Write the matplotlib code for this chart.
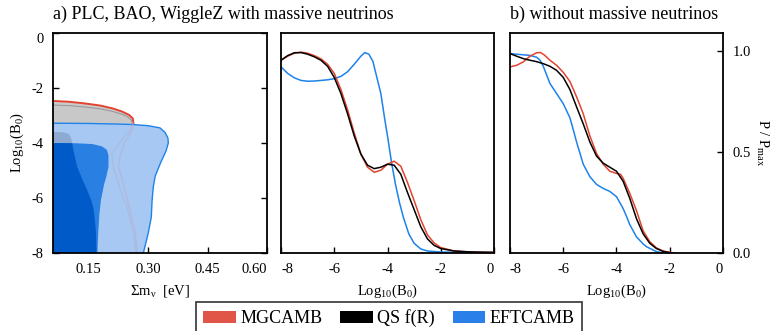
import numpy as np
import matplotlib
matplotlib.use('Agg')
import matplotlib.pyplot as plt
from matplotlib.patches import Patch

plt.rcParams['font.family'] = ['Liberation Serif', 'DejaVu Serif']
plt.rcParams['mathtext.fontset'] = 'custom'
plt.rcParams['mathtext.rm'] = 'Liberation Serif'
plt.rcParams['mathtext.it'] = 'Liberation Serif:italic'

RED = '#e4432f'
BLUE = '#1e82ea'

# ── panel a) contours: boundaries (sum m_nu, log10 B0) ──────────────────────
# MGCAMB outer contour (top edge, then right edge down to -8)
mg95_x = [0.06, 0.10, 0.14, 0.18, 0.21, 0.235, 0.252, 0.261, 0.263, 0.262, 0.255, 0.24, 0.229, 0.225, 0.24, 0.255, 0.267, 0.273]
mg95_y = [-2.47, -2.50, -2.56, -2.64, -2.74, -2.86, -2.98, -3.10, -3.25, -3.45, -3.65, -4.0, -4.5, -4.86, -5.6, -6.5, -7.2, -8.0]
# MGCAMB inner contour
mg68_x = [0.06, 0.10, 0.14, 0.18, 0.21, 0.235, 0.250, 0.258, 0.260, 0.255, 0.235, 0.208, 0.212, 0.230, 0.246, 0.262, 0.270]
mg68_y = [-2.62, -2.64, -2.69, -2.76, -2.85, -2.96, -3.06, -3.18, -3.32, -3.53, -3.85, -4.4, -4.86, -5.7, -6.3, -7.2, -8.0]
# EFTCAMB outer contour
ef95_x = [0.06, 0.15, 0.22, 0.263, 0.30, 0.33, 0.343, 0.350, 0.351, 0.345, 0.332, 0.318, 0.313, 0.310, 0.308, 0.300, 0.288]
ef95_y = [-3.28, -3.29, -3.31, -3.33, -3.37, -3.45, -3.62, -3.82, -4.0, -4.3, -4.7, -5.2, -5.6, -6.1, -6.7, -7.3, -8.0]
# EFTCAMB inner contour
ef68_x = [0.06, 0.12, 0.16, 0.183, 0.196, 0.200, 0.200, 0.195, 0.189, 0.181, 0.177, 0.174, 0.172]
ef68_y = [-4.0, -4.01, -4.04, -4.12, -4.25, -4.45, -4.86, -5.2, -5.5, -6.07, -6.6, -7.3, -8.0]
# overlap region (innermost)
core_x = [0.06, 0.085, 0.097, 0.104, 0.108, 0.112, 0.121, 0.135, 0.146, 0.157, 0.163, 0.168, 0.170]
core_y = [-3.60, -3.61, -3.65, -3.75, -3.95, -4.3, -4.86, -5.35, -5.7, -6.1, -6.44, -7.16, -8.0]

# ── panel a) 1D posteriors with massive neutrinos ────────────────────────────
a_mg_x = [-8.0, -7.75, -7.5, -7.25, -7.0, -6.75, -6.5, -6.25, -6.0, -5.75, -5.5, -5.25, -5.0, -4.75, -4.5, -4.25, -4.0, -3.75, -3.5, -3.25, -3.0, -2.75, -2.5, -2.25, -2.0, -1.5, -1.0, -0.5, 0.0]
a_mg_y = [0.955, 0.975, 0.99, 0.995, 0.99, 0.978, 0.962, 0.935, 0.89, 0.81, 0.71, 0.595, 0.49, 0.425, 0.40, 0.41, 0.44, 0.455, 0.43, 0.35, 0.26, 0.165, 0.09, 0.05, 0.027, 0.01, 0.006, 0.004, 0.003]
a_qs_x = [-8.0, -7.75, -7.5, -7.25, -7.0, -6.75, -6.5, -6.25, -6.0, -5.75, -5.5, -5.25, -5.0, -4.75, -4.5, -4.25, -4.0, -3.75, -3.5, -3.25, -3.0, -2.75, -2.5, -2.25, -2.0, -1.5, -1.0, -0.5, 0.0]
a_qs_y = [0.955, 0.978, 0.992, 0.993, 0.985, 0.972, 0.955, 0.925, 0.87, 0.79, 0.69, 0.58, 0.49, 0.435, 0.418, 0.425, 0.44, 0.435, 0.39, 0.30, 0.215, 0.13, 0.07, 0.038, 0.022, 0.01, 0.006, 0.004, 0.003]
a_ef_x = [-8.0, -7.75, -7.5, -7.25, -7.0, -6.75, -6.5, -6.25, -6.0, -5.75, -5.5, -5.25, -5.0, -4.85, -4.7, -4.55, -4.4, -4.25, -4.1, -4.0, -3.85, -3.7, -3.55, -3.4, -3.2, -3.0, -2.75, -2.5, -2.0, -1.0, 0.0]
a_ef_y = [0.922, 0.89, 0.868, 0.855, 0.851, 0.852, 0.855, 0.858, 0.864, 0.875, 0.898, 0.935, 0.975, 0.993, 0.985, 0.95, 0.87, 0.79, 0.66, 0.58, 0.45, 0.34, 0.25, 0.175, 0.095, 0.048, 0.02, 0.01, 0.005, 0.003, 0.002]

# ── panel b) without massive neutrinos ───────────────────────────────────────
b_mg_x = [-8.0, -7.75, -7.5, -7.25, -7.0, -6.85, -6.7, -6.5, -6.25, -6.0, -5.75, -5.5, -5.25, -5.0, -4.75, -4.5, -4.25, -4.0, -3.85, -3.75, -3.5, -3.25, -3.0, -2.75, -2.5, -2.25, -2.0, -1.8]
b_mg_y = [0.922, 0.93, 0.947, 0.975, 0.992, 0.993, 0.98, 0.955, 0.93, 0.895, 0.85, 0.774, 0.69, 0.58, 0.493, 0.44, 0.405, 0.394, 0.39, 0.37, 0.295, 0.21, 0.11, 0.056, 0.025, 0.01, 0.003, 0.0]
b_qs_x = [-8.0, -7.75, -7.5, -7.25, -7.0, -6.75, -6.5, -6.25, -6.0, -5.75, -5.5, -5.25, -5.0, -4.75, -4.5, -4.25, -4.0, -3.75, -3.5, -3.25, -3.0, -2.75, -2.5, -2.25, -2.0]
b_qs_y = [0.988, 0.975, 0.963, 0.955, 0.948, 0.938, 0.925, 0.905, 0.87, 0.81, 0.724, 0.64, 0.55, 0.48, 0.445, 0.425, 0.405, 0.355, 0.27, 0.17, 0.095, 0.048, 0.022, 0.008, 0.002]
b_ef_x = [-8.0, -7.75, -7.5, -7.25, -7.0, -6.87, -6.75, -6.5, -6.25, -6.0, -5.75, -5.62, -5.5, -5.37, -5.25, -5.0, -4.75, -4.5, -4.25, -4.0, -3.75, -3.62, -3.5, -3.25, -3.0, -2.87, -2.5, -2.25]
b_ef_y = [0.988, 0.985, 0.982, 0.979, 0.97, 0.955, 0.925, 0.84, 0.79, 0.74, 0.67, 0.609, 0.55, 0.493, 0.44, 0.378, 0.34, 0.32, 0.305, 0.279, 0.22, 0.18, 0.14, 0.08, 0.045, 0.031, 0.007, 0.0]

labels = ['MGCAMB', 'QS f(R)', 'EFTCAMB']
mnu_ticks = [0.15, 0.30, 0.45, 0.60]
logb_ticks = [-8, -6, -4, -2, 0]
p_ticks = [0.0, 0.5, 1.0]


def region(xs, ys, x0=0.0, y0=-8.5):
    # close a contour against the left edge and bottom of the plot
    px = [x0] + list(xs) + [xs[-1], x0]
    py = [ys[0]] + list(ys) + [y0, y0]
    return px, py


fig = plt.figure(figsize=(7.74, 3.31), dpi=100)
W, H = 774, 331
bot, top = 1 - 253 / H, 1 - 33 / H
ax1 = fig.add_axes([53 / W, bot, 214 / W, top - bot])
ax2 = fig.add_axes([281 / W, bot, 213 / W, top - bot])
ax3 = fig.add_axes([510 / W, bot, 213 / W, top - bot])

# contours
px, py = region(mg95_x, mg95_y)
ax1.fill(px, py, facecolor='#cacaca', edgecolor=RED, linewidth=1.4, zorder=1)
px, py = region(mg68_x, mg68_y)
ax1.fill(px, py, facecolor='#c8c8c8', edgecolor='#9a9a9a', linewidth=0.8, zorder=1.1)
px, py = region(ef95_x, ef95_y)
ax1.fill(px, py, facecolor='#a7c8f2', edgecolor=BLUE, linewidth=1.0, zorder=2)
px, py = region(core_x, core_y)
ax1.fill(px, py, facecolor='#8faad0', edgecolor='none', zorder=2.5)
px, py = region(ef68_x, ef68_y)
mid = ax1.fill(px, py, facecolor='#2a7fe3', edgecolor='none', zorder=3)[0]
px, py = region(core_x, core_y)
dark = ax1.fill(px, py, facecolor='#005bc8', edgecolor='none', zorder=3.5)[0]
dark.set_clip_path(mid)
# MGCAMB edges faintly visible through the blue
ax1.plot(mg95_x[8:], mg95_y[8:], color='#b9a8c4', lw=1.0, alpha=0.45, zorder=4)
ax1.plot(mg68_x[8:], mg68_y[8:], color='#a8b0cc', lw=1.0, alpha=0.45, zorder=4)

ax1.set_xlim(0.06, 0.60)
ax1.set_ylim(-8, 0)
ax1.set_xticks(mnu_ticks)
ax1.set_xticklabels([f'{v:.2f}' for v in mnu_ticks])
ax1.set_yticks(logb_ticks)
ax1.set_yticklabels([str(v) for v in logb_ticks])
ax1.set_xlabel('Σm$_{\\mathrm{ν}}$  [eV]', fontsize=10.5, labelpad=5)
ax1.set_ylabel('Log$_{10}$(B$_0$)', fontsize=10.5, labelpad=4)
ax1.tick_params(direction='in', right=True, top=False, length=4, width=1, labelsize=10.5, pad=7)
# keep edge labels inside the frame
ax1.get_xticklabels()[-1].set_ha('right')
ax1.get_yticklabels()[0].set_va('center_baseline')
ax1.get_yticklabels()[-1].set_va('top')

for ax, (mx, my, qx, qy, ex, ey) in [
        (ax2, (a_mg_x, a_mg_y, a_qs_x, a_qs_y, a_ef_x, a_ef_y)),
        (ax3, (b_mg_x, b_mg_y, b_qs_x, b_qs_y, b_ef_x, b_ef_y))]:
    ax.plot(ex, ey, color=BLUE, lw=1.1)
    ax.plot(mx, my, color=RED, lw=1.1)
    ax.plot(qx, qy, color='black', lw=1.1)
    ax.set_xlim(-8, 0)
    ax.set_ylim(0, 1.09)
    ax.set_xticks(logb_ticks)
    ax.set_xticklabels([str(v) for v in logb_ticks])
    ax.set_xlabel('Log$_{10}$(B$_0$)', fontsize=10.5, labelpad=5)
    ax.tick_params(direction='in', length=4, width=1, labelsize=10.5, pad=7)
    ax.get_xticklabels()[0].set_ha('left')
    ax.get_xticklabels()[-1].set_ha('right')

ax2.set_yticks([])
ax3.yaxis.tick_right()
ax3.yaxis.set_label_position('right')
ax3.set_yticks(p_ticks)
ax3.set_yticklabels([f'{v:.1f}' for v in p_ticks])
ax3.tick_params(axis='y', direction='in', right=True, left=False, length=4, width=1)
ax3.get_yticklabels()[0].set_va('center_baseline')
ax3.set_ylabel('P / P$_\\mathrm{max}$', fontsize=10.5, rotation=270, labelpad=14)

for ax in (ax1, ax2, ax3):
    for s in ax.spines.values():
        s.set_linewidth(1.3)
        s.set_zorder(10)

fig.text(53 / W, 1 - 14 / H, 'a) PLC, BAO, WiggleZ with massive neutrinos',
         fontsize=13, va='center', ha='left')
fig.text(510 / W, 1 - 14 / H, 'b) without massive neutrinos',
         fontsize=13, va='center', ha='left')

handles = [Patch(facecolor='#e05548'), Patch(facecolor='black'), Patch(facecolor='#2a80e8')]
leg = fig.legend(handles, labels, ncol=3, loc='upper center',
                 bbox_to_anchor=(389 / W, 1 - 302 / H), fontsize=13,
                 frameon=True, fancybox=False, edgecolor='black',
                 handlelength=1.8, handleheight=0.65, handletextpad=0.25,
                 columnspacing=1.0, borderpad=0.4, borderaxespad=0)
leg.get_frame().set_linewidth(1.2)

fig.savefig('out.png', dpi=100)
